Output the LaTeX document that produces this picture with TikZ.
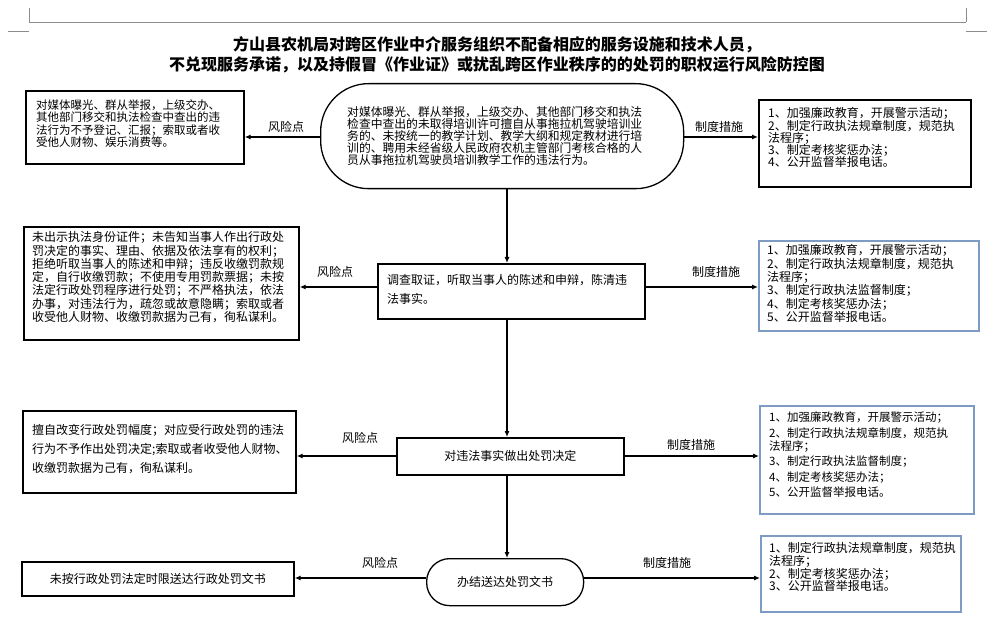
\documentclass[tikz,border=0pt]{standalone}
\usepackage{fontspec}
\setmainfont{Noto Sans CJK SC}
\usetikzlibrary{arrows.meta}
\definecolor{boxblue}{RGB}{126,155,196}
\definecolor{pagegray}{RGB}{140,140,140}
\begin{document}
\begin{tikzpicture}[x=1pt,y=-1pt,
  blkbox/.style={draw=black, line width=1.7pt, inner sep=0, anchor=north west},
  bluebox/.style={draw=boxblue, line width=1.7pt, inner sep=0, anchor=north west},
  txt/.style={inner sep=0, anchor=north west, align=left},
  lbl/.style={inner sep=0, font=\fontsize{12}{12}\selectfont},
  conn/.style={line width=1.1pt, -{Latex[length=6pt,width=5pt]}},
  vline/.style={line width=1.1pt, -{Latex[length=6pt,width=5pt]}}]
\useasboundingbox (0,0) rectangle (994,631);
% page header marks
\draw[pagegray, line width=0.8pt] (29,22) -- (966,22);
\draw[pagegray, line width=0.8pt] (29,8) -- (29,22);
\draw[pagegray, line width=0.8pt] (966,8) -- (966,22);
\draw[pagegray, line width=0.8pt] (8,31) -- (29,31);
\draw[pagegray, line width=0.8pt] (966,31) -- (987,31);
% title
\node[inner sep=0, align=center, font=\fontsize{16}{20}\selectfont\bfseries] (title) at (497,55)
  {方山县农机局对跨区作业中介服务组织不配备相应的服务设施和技术人员，\\
   不兑现服务承诺，以及持假冒《作业证》或扰乱跨区作业秩序的的处罚的职权运行风险防控图};
% ---- row 1
\node[draw, line width=1.3pt, rounded corners=48, minimum width=363, minimum height=105, inner sep=0, anchor=north west] (s1) at (320,83) {};
\node[txt, font=\fontsize{11.8}{10.9}\selectfont] (s1t) at (347,106.2)
  {对媒体曝光、群从举报，上级交办、其他部门移交和执法\\
   检查中查出的未取得培训许可擅自从事拖拉机驾驶培训业\\
   务的、未按统一的教学计划、教学大纲和规定教材进行培\\
   训的、聘用未经省级人民政府农机主管部门考核合格的人\\
   员从事拖拉机驾驶员培训教学工作的违法行为。};
\node[blkbox, minimum width=218, minimum height=73] (l1) at (25,90) {};
\node[txt, font=\fontsize{11.5}{12.3}\selectfont] (l1t) at (36,99.6)
  {对媒体曝光、群从举报，上级交办、\\
   其他部门移交和执法检查中查出的违\\
   法行为不予登记、汇报；索取或者收\\
   受他人财物、娱乐消费等。};
\node[blkbox, minimum width=212, minimum height=87] (r1) at (758,99) {};
\node[txt, font=\fontsize{12}{12.3}\selectfont] (r1t) at (768,107.4)
  {1、加强廉政教育，开展警示活动；\\
   2、制定行政执法规章制度，规范执\\
   法程序；\\
   3、制定考核奖惩办法；\\
   4、公开监督举报电话。};
% ---- row 2
\node[blkbox, minimum width=267, minimum height=55] (b2) at (377,263) {};
\node[txt, font=\fontsize{12}{19}\selectfont] (b2t) at (387,274.4)
  {调查取证，听取当事人的陈述和申辩，陈清违\\
   法事实。};
\node[blkbox, minimum width=275, minimum height=113] (l2) at (23,226) {};
\node[txt, font=\fontsize{12}{13.3}\selectfont] (l2t) at (32,231.4)
  {未出示执法身份证件；未告知当事人作出行政处\\
   罚决定的事实、理由、依据及依法享有的权利；\\
   拒绝听取当事人的陈述和申辩；违反收缴罚款规\\
   定，自行收缴罚款；不使用专用罚款票据；未按\\
   法定行政处罚程序进行处罚；不严格执法，依法\\
   办事，对违法行为，疏忽或故意隐瞒；索取或者\\
   收受他人财物、收缴罚款据为己有，徇私谋利。};
\node[bluebox, minimum width=220, minimum height=90] (r2) at (758,240) {};
\node[txt, font=\fontsize{12}{13.4}\selectfont] (r2t) at (767,244.4)
  {1、加强廉政教育，开展警示活动；\\
   2、制定行政执法规章制度，规范执\\
   法程序；\\
   3、制定行政执法监督制度；\\
   4、制定考核奖惩办法；\\
   5、公开监督举报电话。};
% ---- row 3
\node[blkbox, minimum width=227, minimum height=37, font=\fontsize{12}{12}\selectfont] (b3) at (396,437) {对违法事实做出处罚决定};
\node[blkbox, minimum width=273, minimum height=82] (l3) at (22,410) {};
\node[txt, font=\fontsize{12}{19}\selectfont] (l3t) at (32,424.4)
  {擅自改变行政处罚幅度；对应受行政处罚的违法\\
   行为不予作出处罚决定;索取或者收受他人财物、\\
   收缴罚款据为己有，徇私谋利。};
\node[bluebox, minimum width=214, minimum height=108] (r3) at (759,405) {};
\node[txt, font=\fontsize{11.5}{13}\selectfont] (r3t) at (769,411.6)
  {1、加强廉政教育，开展警示活动；\\[2.5pt]
   2、制定行政执法规章制度，规范执\\
   法程序；\\[2.5pt]
   3、制定行政执法监督制度；\\[2.5pt]
   4、制定考核奖惩办法；\\[2.5pt]
   5、公开监督举报电话。};
% ---- row 4
\node[draw, line width=1.3pt, rounded corners=23, minimum width=157, minimum height=47, inner sep=0, anchor=north west, font=\fontsize{12}{12}\selectfont] (s2) at (426,558) {办结送达处罚文书};
\node[blkbox, minimum width=272, minimum height=34, font=\fontsize{12}{12}\selectfont] (l4) at (21,561) {未按行政处罚法定时限送达行政处罚文书};
\node[bluebox, minimum width=200, minimum height=76] (r4) at (760,535) {};
\node[txt, font=\fontsize{12}{12.6}\selectfont] (r4t) at (769,542.4)
  {1、制定行政执法规章制度，规范执\\
   法程序；\\
   2、制定考核奖惩办法；\\
   3、公开监督举报电话。};
% ---- connectors
\coordinate (vx) at (507,0);
\coordinate (y1) at (0,137);
\coordinate (y2) at (0,287);
\coordinate (y3) at (0,456);
\coordinate (y4) at (0,578);
\draw[conn] (s1.west |- y1) -- (l1.east |- y1);
\draw[conn] (s1.east |- y1) -- (r1.west |- y1);
\draw[vline] (s1.south -| vx) -- (b2.north -| vx);
\draw[conn] (b2.west |- y2) -- (l2.east |- y2);
\draw[conn] (b2.east |- y2) -- (r2.west |- y2);
\draw[vline] (b2.south -| vx) -- (b3.north -| vx);
\draw[conn] (b3.west |- y3) -- (l3.east |- y3);
\draw[conn] (b3.east |- y3) -- (r3.west |- y3);
\draw[vline] (b3.south -| vx) -- (s2.north -| vx);
\draw[conn] (s2.west |- y4) -- (l4.east |- y4);
\draw[conn] (s2.east |- y4) -- (r4.west |- y4);
% labels
\node[lbl] (k1) at (286,127) {风险点};
\node[lbl] (m1) at (719,127) {制度措施};
\node[lbl] (k2) at (335,272) {风险点};
\node[lbl] (m2) at (716,272) {制度措施};
\node[lbl] (k3) at (360,438) {风险点};
\node[lbl] (m3) at (691,445) {制度措施};
\node[lbl] (k4) at (380,563) {风险点};
\node[lbl] (m4) at (667,563) {制度措施};
\end{tikzpicture}
\end{document}
